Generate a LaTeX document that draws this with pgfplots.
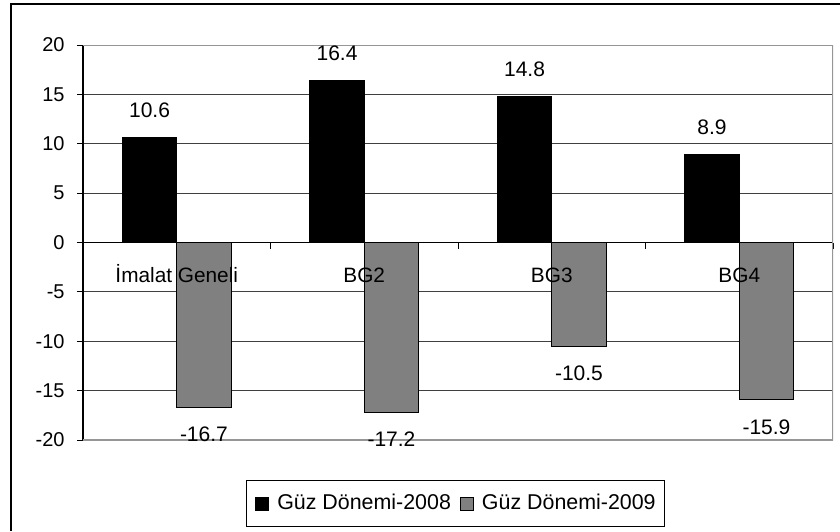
\documentclass[border=0pt]{standalone}
\usepackage{fontspec}
\setmainfont{Liberation Sans}
\usepackage{pgfplots}
\pgfplotsset{compat=1.18}
\definecolor{barGray}{RGB}{128,128,128}
\definecolor{frameGray}{RGB}{150,150,150}
\pgfplotsset{
  commonaxis/.style={
    at={(41.5pt,45.5pt)}, anchor=south west,
    scale only axis, width=375pt, height=197.5pt,
    xmin=-0.5, xmax=3.5, ymin=-20, ymax=20,
  },
}
\begin{document}
\begin{tikzpicture}
\useasboundingbox (0,0) rectangle (420pt,265.5pt);
\draw[line width=1pt, black] (5.25pt,0) -- (5.25pt,263.3pt) -- (420pt,263.3pt);
\begin{axis}[
  commonaxis,
  axis x line=middle, axis y line=left,
  axis line style={-},
  x axis line style={black, line width=0.5pt},
  y axis line style={black, line width=1pt},
  hide obscured x ticks=false, hide obscured y ticks=false,
  ytick={-20,-15,...,20},
  xtick={0.5,1.5,2.5,3.5}, xticklabels={},
  tick align=outside, major tick length=3pt,
  tick style={black, line width=0.5pt},
  ymajorgrids, grid style={black!75, line width=0.5pt},
  yticklabel style={xshift=-2.67pt, font=\fontsize{10}{12}\selectfont},
  /pgf/number format/assume math mode=true,
  ybar, bar width=0.29,
  nodes near coords={\pgfmathprintnumber[fixed,fixed zerofill,precision=1]{\pgfplotspointmeta}},
  nodes near coords align={vertical},
  every node near coord/.append style={font=\fontsize{10.5}{12}\selectfont, text=black, inner ysep=9.7pt},
  legend style={at={(0.4967,-0.1608)}, anchor=center, legend columns=2, draw=black, line width=0.5pt,
    font=\fontsize{10.7}{13}\selectfont, inner xsep=4.5pt, inner ysep=5pt,
    nodes={inner xsep=0pt},
    /tikz/column 2/.style={column sep=4.5pt}},
]
\addplot[fill=black, draw=black, line width=0.5pt, bar shift=-0.145,
  legend image code/.code={\draw[fill=black, draw=black, line width=0.4pt] (0pt,-3.25pt) rectangle (6.5pt,3.25pt); \path (10.5pt,0pt);}]
  coordinates {(0,10.6) (1,16.4) (2,14.8) (3,8.9)};
\addlegendentry{Güz Dönemi-2008}
\addplot[fill=barGray, draw=black, line width=0.5pt, bar shift=0.145,
  legend image code/.code={\draw[fill=barGray, draw=black, line width=0.5pt] (0pt,-3.25pt) rectangle (6.5pt,3.25pt); \path (10.5pt,0pt);}]
  coordinates {(0,-16.7) (1,-17.2) (2,-10.5) (3,-15.9)};
\addlegendentry{Güz Dönemi-2009}
\draw[frameGray, line width=1pt] (rel axis cs:0,1) -- (rel axis cs:1,1) -- (rel axis cs:1,0) -- (rel axis cs:0,0);
\end{axis}
\begin{axis}[
  commonaxis,
  axis x line=middle, axis y line=none,
  x axis line style={draw=none},
  hide obscured x ticks=false,
  ytick=\empty,
  xtick={0,1,2,3},
  xticklabels={İmalat Geneli,BG2,BG3,BG4},
  major tick length=0pt, tick style={draw=none},
  xticklabel style={yshift=-8.9pt, text height=7.45pt, text depth=0pt, font=\fontsize{10.4}{12}\selectfont},
]
\end{axis}
\end{tikzpicture}
\end{document}
